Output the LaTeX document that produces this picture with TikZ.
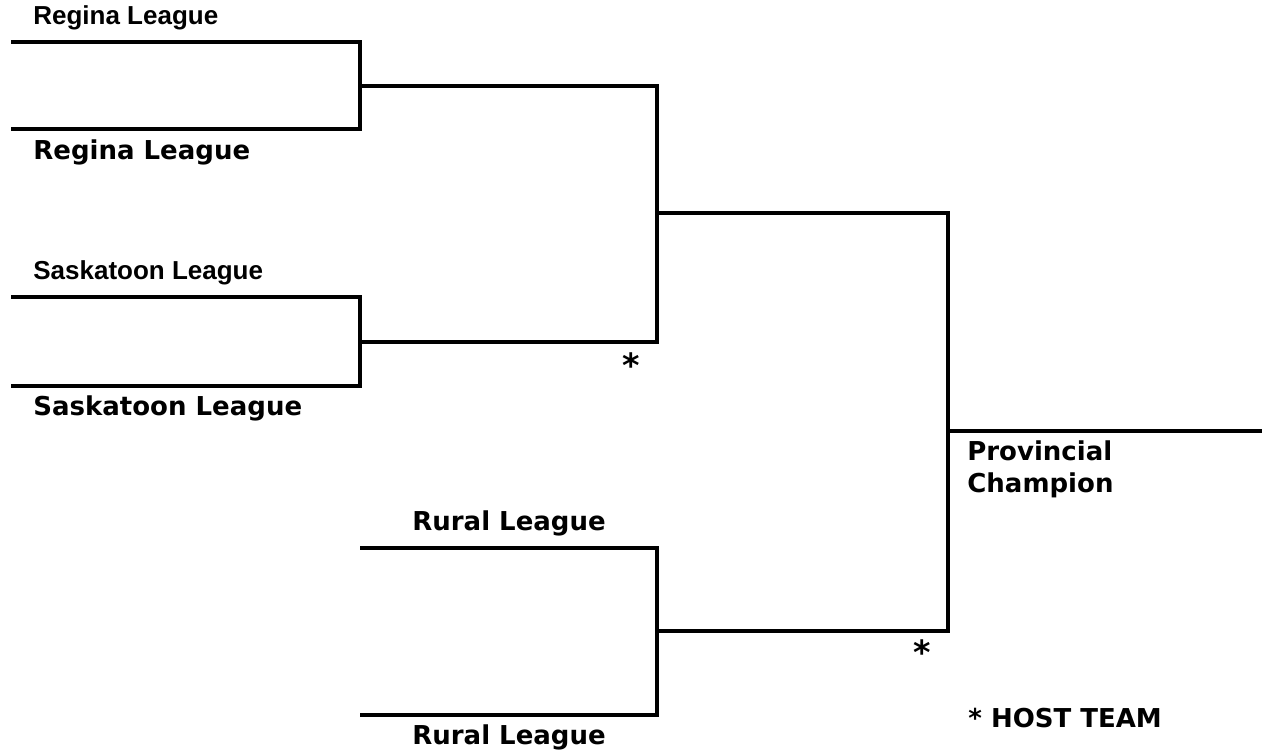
\documentclass[tikz,border=0pt]{standalone}
\usepackage{fontspec}
\setmainfont{DejaVu Sans}
\newfontfamily\arialfont{Liberation Sans}
\usetikzlibrary{positioning}

\newcommand{\bigstar}{{\fontsize{19}{19}\selectfont *}}

\begin{document}
\begin{tikzpicture}[
    x=0.02cm, y=-0.02cm,
    bracket/.style={line width=2.5pt, line cap=rect},
    team/.style={anchor=west, inner sep=0pt, font=\fontsize{14.8}{17}\selectfont\bfseries},
    thin/.style={anchor=west, inner sep=0pt, font=\arialfont\fontsize{14.8}{17}\selectfont\bfseries},
    host/.style={inner sep=0pt, font=\fontsize{14.8}{17}\selectfont\bfseries}
]
    \useasboundingbox (0,0) rectangle (1262,750);

    % columns of the bracket
    \def\colA{360}
    \def\colB{657}
    \def\colC{948}

    % first round slots
    \coordinate (reg1) at (13,42);
    \coordinate (reg2) at (13,129);
    \coordinate (sas1) at (13,297);
    \coordinate (sas2) at (13,386);
    \coordinate (rur1) at (362,548);
    \coordinate (rur2) at (362,715);
    \coordinate (champ) at (1262,431);

    % Regina
    \draw[bracket] (reg1) -- (\colA,42) -- (\colA,129) -- (reg2);
    \coordinate (regw) at (\colA,86);
    % Saskatoon
    \draw[bracket] (sas1) -- (\colA,297) -- (\colA,386) -- (sas2);
    \coordinate (sasw) at (\colA,342);
    % semi final
    \draw[bracket] (regw) -- (\colB,86) -- (\colB,342) -- (sasw);
    \coordinate (semiw) at (\colB,213);
    % Rural
    \draw[bracket] (rur1) -- (\colB,548) -- (\colB,715) -- (rur2);
    \coordinate (rurw) at (\colB,631);
    % final
    \draw[bracket] (semiw) -- (\colC,213) -- (\colC,631) -- (rurw);
    \draw[bracket] (\colC,431) -- (champ);

    % team labels
    \node[thin] (regA) at (33,18) {Regina League};
    \node[team] (regB) at (33,152) {Regina League};
    \node[thin] (sasA) at (33,273) {Saskatoon League};
    \node[team] (sasB) at (33,408) {Saskatoon League};
    \node[team] (rurA) at (412,523) {Rural League};
    \node[team] (rurB) at (412,737) {Rural League};
    \node[team, align=left, anchor=north west] (prov) at (967,440) {Provincial\\[1.2pt]Champion};

    % host marks
    \node[host] (star1) at (631,365) {\bigstar};
    \node[host] (star2) at (922,652) {\bigstar};
    \node[team] (hostnote) at (968,718) {* HOST TEAM};

\end{tikzpicture}
\end{document}
